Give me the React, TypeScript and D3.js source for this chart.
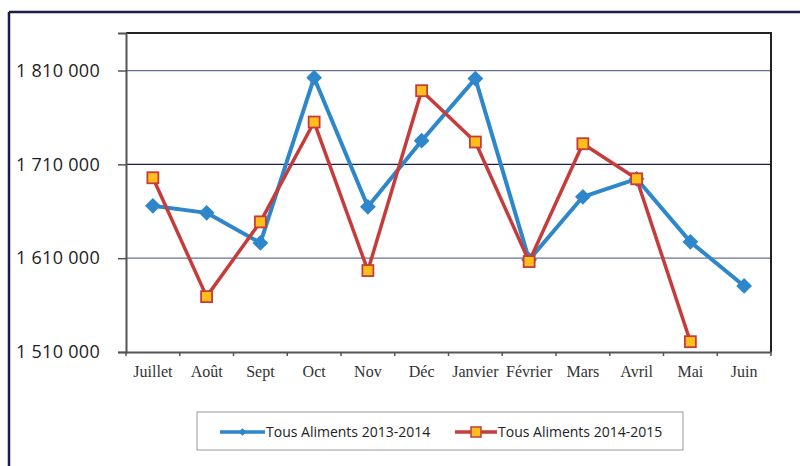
import React, { useEffect, useRef } from 'react'
import * as d3 from 'd3'

const months = ['Juillet', 'Août', 'Sept', 'Oct', 'Nov', 'Déc', 'Janvier', 'Février', 'Mars', 'Avril', 'Mai', 'Juin']
const serie2013 = [1665800, 1658300, 1626300, 1802400, 1664700, 1735200, 1801400, 1608200, 1675400, 1694600, 1627400, 1580400]
const serie2014 = [1695700, 1569000, 1648700, 1755100, 1596800, 1788500, 1733800, 1606400, 1732000, 1694600, 1521000, null]
const yTicks = [1510000, 1610000, 1710000, 1810000]
const seriesNames = ['Tous Aliments 2013-2014', 'Tous Aliments 2014-2015']

const BLUE = '#2f87cb'
const RED = '#c63c3b'
const GOLD = '#ffbf1a'

export default function App() {
  const ref = useRef<SVGSVGElement>(null)

  useEffect(() => {
    document.body.style.margin = '0'
    const svg = d3.select(ref.current)
    svg.selectAll('*').remove()

    const height = 466
    const plot = { left: 126, top: 33, right: 771, bottom: 352 }

    // cadre extérieur
    svg.append('line').attr('x1', 9).attr('x2', 800).attr('y1', 12).attr('y2', 12)
      .attr('stroke', '#1b1b4d').attr('stroke-width', 2.5)
    svg.append('line').attr('x1', 9).attr('x2', 9).attr('y1', 12).attr('y2', height)
      .attr('stroke', '#1b1b4d').attr('stroke-width', 2.5)

    const x = d3.scaleBand().domain(months).range([plot.left, plot.right])
    const y = d3.scaleLinear().domain([1510000, 1850000]).range([plot.bottom, plot.top])

    // grille
    svg.append('g').selectAll('line').data(yTicks.slice(1)).enter().append('line')
      .attr('x1', plot.left).attr('x2', plot.right)
      .attr('y1', d => y(d)).attr('y2', d => y(d))
      .attr('stroke', d => d === 1710000 ? '#1c1c50' : '#6a6f9a')
      .attr('stroke-width', 1.3)

    // bord du graphique (haut, droite)
    svg.append('path')
      .attr('d', `M${plot.left},${plot.top}H${plot.right}V${plot.bottom}`)
      .attr('fill', 'none').attr('stroke', '#222').attr('stroke-width', 2)

    // axe Y
    const yAxis = d3.axisLeft(y).tickValues(yTicks).tickSize(8).tickPadding(18)
      .tickFormat(d => d3.format(',')(d as number).replace(/,/g, ' '))
    const gy = svg.append('g').attr('transform', `translate(${plot.left},0)`).call(yAxis)
    gy.select('.domain').attr('stroke', '#555').attr('stroke-width', 2)
    gy.selectAll('.tick line').attr('stroke', '#555').attr('stroke-width', 1.5)
    gy.selectAll('.tick text')
      .attr('font-family', '"Open Sans", "Liberation Sans", sans-serif')
      .attr('font-size', 18).attr('letter-spacing', 0.3).attr('fill', '#222')

    // axe X
    const xAxis = d3.axisBottom(x).tickSize(0).tickPadding(14)
    const gx = svg.append('g').attr('transform', `translate(0,${plot.bottom})`).call(xAxis)
    gx.select('.domain').attr('stroke', '#555').attr('stroke-width', 2)
    gx.selectAll('.tick text')
      .attr('font-family', '"Liberation Serif", "Times New Roman", serif')
      .attr('font-size', 16).attr('fill', '#333')
    gx.append('g').selectAll('line').data(d3.range(months.length + 1)).enter().append('line')
      .attr('x1', i => plot.left + i * x.step()).attr('x2', i => plot.left + i * x.step())
      .attr('y1', 0).attr('y2', 4).attr('stroke', '#555').attr('stroke-width', 1.5)

    const cx = (i: number) => (x(months[i]) as number) + x.bandwidth() / 2

    const line = d3.line<number | null>()
      .defined(d => d != null)
      .x((_, i) => cx(i))
      .y(d => y(d as number))

    // série 2013-2014
    svg.append('path').datum(serie2013).attr('d', line)
      .attr('fill', 'none').attr('stroke', BLUE).attr('stroke-width', 4).attr('stroke-linejoin', 'round')
    const diamond = d3.symbol(d3.symbolSquare, 125)()
    svg.append('g').selectAll('path').data(serie2013).enter().append('path')
      .attr('d', diamond)
      .attr('transform', (d, i) => `translate(${cx(i)},${y(d)}) rotate(45)`)
      .attr('fill', BLUE)

    // série 2014-2015
    svg.append('path').datum(serie2014).attr('d', line)
      .attr('fill', 'none').attr('stroke', RED).attr('stroke-width', 3.5).attr('stroke-linejoin', 'round')
    svg.append('g').selectAll('rect')
      .data(serie2014.map((v, i) => ({ v, i })).filter(d => d.v != null)).enter().append('rect')
      .attr('x', d => cx(d.i) - 5.5).attr('y', d => y(d.v as number) - 5.5)
      .attr('width', 11).attr('height', 11)
      .attr('fill', GOLD).attr('stroke', RED).attr('stroke-width', 1.8)

    // légende
    const lg = svg.append('g')
    lg.append('rect').attr('x', 197).attr('y', 412).attr('width', 486).attr('height', 38)
      .attr('fill', 'white').attr('stroke', '#999').attr('stroke-width', 1)
    const ly = 432
    lg.append('line').attr('x1', 220).attr('x2', 265).attr('y1', ly).attr('y2', ly)
      .attr('stroke', BLUE).attr('stroke-width', 3.5)
    lg.append('path').attr('d', d3.symbol(d3.symbolSquare, 30)())
      .attr('transform', `translate(242.5,${ly}) rotate(45)`).attr('fill', BLUE)
    lg.append('line').attr('x1', 455).attr('x2', 497).attr('y1', ly).attr('y2', ly)
      .attr('stroke', RED).attr('stroke-width', 3.5)
    lg.append('rect').attr('x', 471).attr('y', ly - 5).attr('width', 10).attr('height', 10)
      .attr('fill', GOLD).attr('stroke', RED).attr('stroke-width', 1.5)
    lg.selectAll('text').data(seriesNames).enter().append('text')
      .attr('x', (_, i) => i === 0 ? 266 : 498).attr('y', ly).attr('dy', '0.35em')
      .attr('font-family', '"Open Sans", "Liberation Sans", sans-serif').attr('font-size', 14)
      .attr('fill', '#222').text(d => d)
  }, [])

  return <svg ref={ref} width={800} height={466} style={{ display: 'block', background: 'white' }} />
}
